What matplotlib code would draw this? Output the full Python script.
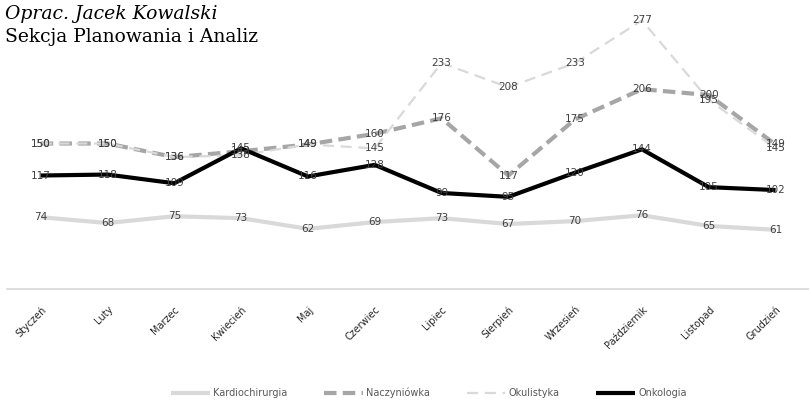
import matplotlib
matplotlib.use("Agg")
import matplotlib.pyplot as plt

months = ["Styczeń", "Luty", "Marzec", "Kwiecień", "Maj", "Czerwiec",
          "Lipiec", "Sierpień", "Wrzesień", "Październik", "Listopad", "Grudzień"]

kardiochirurgia = [74, 68, 75, 73, 62, 69, 73, 67, 70, 76, 65, 61]
naczyniowka = [150, 150, 136, 142, 149, 160, 176, 117, 175, 206, 200, 149]
okulistyka = [150, 150, 136, 138, 149, 145, 233, 208, 233, 277, 195, 145]
onkologia = [117, 118, 109, 145, 116, 128, 99, 95, 120, 144, 105, 102]

series = [
    ("Kardiochirurgia", kardiochirurgia, dict(color="#d9d9d9", lw=3.0, ls="-")),
    ("Naczyniówka", naczyniowka, dict(color="#a6a6a6", lw=3.0, ls=(0, (3, 1.5)))),
    ("Okulistyka", okulistyka, dict(color="#d9d9d9", lw=1.6, ls=(0, (5, 3)))),
    ("Onkologia", onkologia, dict(color="black", lw=3.0, ls="-")),
]

fig = plt.figure(figsize=(8.09, 4.07), dpi=100)
ax = fig.add_axes([0.009, 0.29, 0.991, 0.71])

x = list(range(len(months)))
for name, vals, style in series:
    ax.plot(x, vals, label=name, solid_capstyle="butt", dash_capstyle="butt", **style)
    for xi, v in zip(x, vals):
        ax.text(xi, v, str(v), ha="center", va="center", fontsize=7.5,
                color="#404040")

ax.set_xlim(-0.5, len(months) - 0.5)
ax.set_ylim(0, 298)
ax.set_yticks([])
for s in ["top", "left", "right"]:
    ax.spines[s].set_visible(False)
ax.spines["bottom"].set_color("#d9d9d9")
ax.spines["bottom"].set_linewidth(1.2)

ax.set_xticks(x)
ax.set_xticklabels(months, rotation=45, ha="right", rotation_mode="anchor",
                   fontsize=7, color="#262626")
ax.tick_params(axis="x", length=0, pad=11)

fig.legend(loc="lower center", bbox_to_anchor=(0.53, 0.0), ncol=4, frameon=False,
           fontsize=7, labelcolor="#595959", handlelength=4.0, columnspacing=3.8,
           handletextpad=0.3)

fig.text(0.006, 0.965, "Oprac. Jacek Kowalski", fontsize=13.5, family="DejaVu Serif",
         style="italic", va="center")
fig.text(0.006, 0.91, "Sekcja Planowania i Analiz", fontsize=13.5,
         family="DejaVu Serif", va="center")

fig.savefig("out.png", dpi=100)
